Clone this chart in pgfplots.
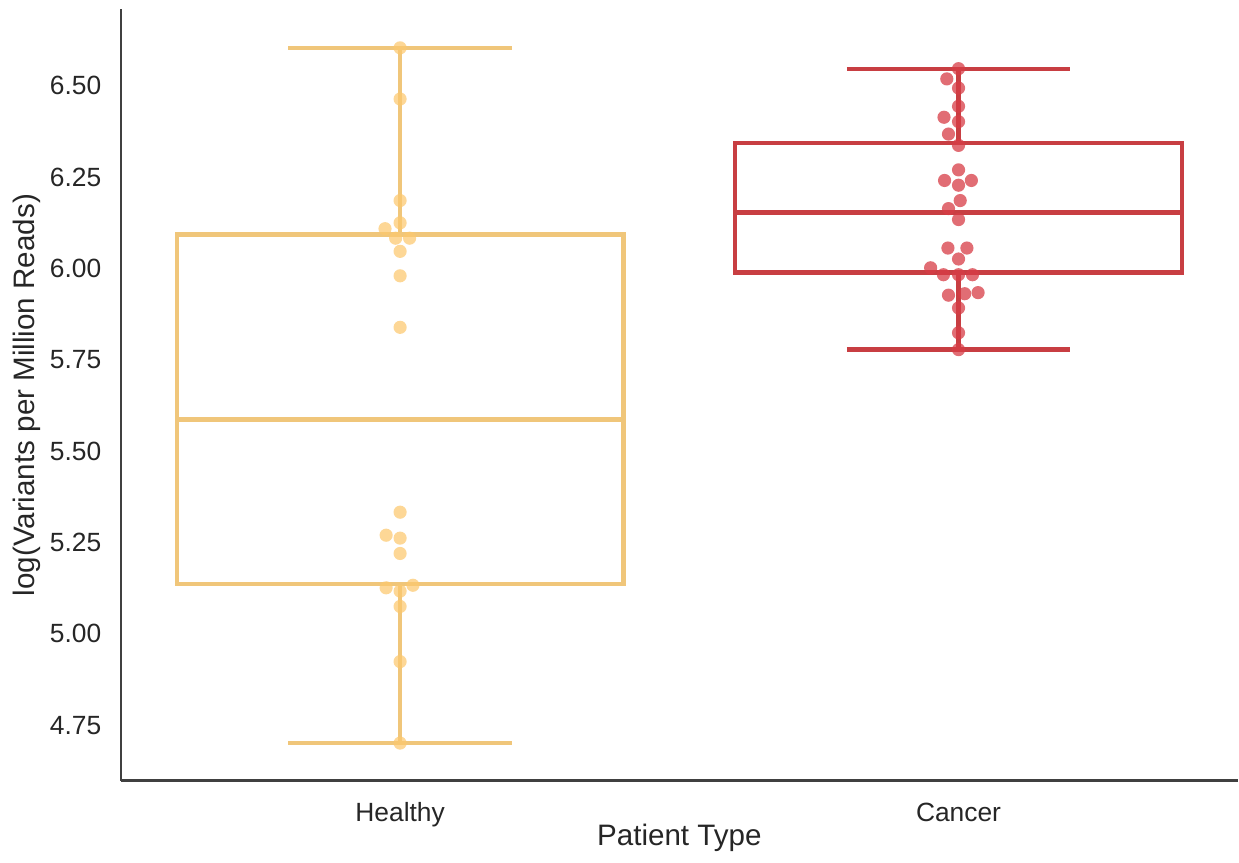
\documentclass[border=0pt]{standalone}
\usepackage{pgfplots}
\pgfplotsset{compat=1.18}
\usepackage{fontspec}
\setmainfont{Liberation Sans}

\definecolor{healthyline}{RGB}{240,198,122}
\definecolor{healthypt}{RGB}{252,200,110}
\definecolor{cancerline}{RGB}{200,62,66}
\definecolor{cancerpt}{RGB}{215,60,70}
\definecolor{spine}{RGB}{64,64,64}
\definecolor{txt}{RGB}{38,38,38}

% #1 colour, #2 position, #3 lower whisker, #4 Q1, #5 median, #6 Q3, #7 upper whisker
\newcommand{\drawbox}[7]{%
  \addplot[draw=#1, line width=2.15pt, line join=miter] coordinates
    {(#2-0.4,#4) (#2+0.4,#4) (#2+0.4,#6) (#2-0.4,#6) (#2-0.4,#4) (#2+0.4,#4)};
  \addplot[draw=#1, line width=2.15pt] coordinates {(#2-0.4,#5) (#2+0.4,#5)};
  \addplot[draw=#1, line width=2.15pt] coordinates {(#2,#4) (#2,#3)};
  \addplot[draw=#1, line width=2.15pt] coordinates {(#2,#6) (#2,#7)};
  \addplot[draw=#1, line width=2.15pt] coordinates {(#2-0.2,#3) (#2+0.2,#3)};
  \addplot[draw=#1, line width=2.15pt] coordinates {(#2-0.2,#7) (#2+0.2,#7)};
}

\begin{document}
\begin{tikzpicture}
\begin{axis}[
  scale only axis,
  width=559pt, height=386pt,
  xmin=-0.5, xmax=1.5,
  ymin=4.598, ymax=6.709,
  axis x line*=bottom, axis y line*=left,
  axis line style={draw=spine, line width=1.25pt},
  tick style={draw=none},
  xtick={0,1}, xticklabels={Healthy,Cancer},
  ytick={4.75,5.00,5.25,5.50,5.75,6.00,6.25,6.50},
  /pgf/number format/assume math mode=true,
  yticklabel style={/pgf/number format/fixed, /pgf/number format/fixed zerofill,
    /pgf/number format/precision=2, anchor=east, inner sep=0pt, xshift=-9.6pt},
  xticklabel style={anchor=base, inner sep=0pt, yshift=-20.4pt},
  tick label style={font=\fontsize{13.2}{15}\selectfont, text=txt},
  xlabel={Patient Type},
  ylabel={log(Variants per Million Reads)},
  every axis x label/.style={at={(axis description cs:0.5,-0.08446)}, anchor=base,
    font=\fontsize{14.8}{17}\selectfont, text=txt},
  every axis y label/.style={at={(axis description cs:-0.0844,0.5)}, anchor=center, rotate=90,
    font=\fontsize{14.8}{17}\selectfont, text=txt},
]

% Box plots: position, whisker ends, quartiles and median per group
\drawbox{healthyline}{0}{4.701}{5.136}{5.587}{6.093}{6.604}
\drawbox{cancerline}{1}{5.778}{5.989}{6.153}{6.344}{6.547}

% Individual samples, Healthy
\addplot[only marks, mark=*, mark size=3.3pt, color=healthypt,
  mark options={fill=healthypt, fill opacity=0.72, draw opacity=0}] table {
x y
0.000 6.604
0.000 6.464
0.000 6.186
0.000 6.125
-0.027 6.109
-0.008 6.083
0.017 6.083
0.000 6.047
0.000 5.980
0.000 5.839
0.000 5.333
-0.025 5.270
0.000 5.262
0.000 5.220
-0.025 5.126
0.023 5.133
0.000 5.117
0.000 5.075
0.000 4.924
0.000 4.701
};

% Individual samples, Cancer
\addplot[only marks, mark=*, mark size=3.3pt, color=cancerpt,
  mark options={fill=cancerpt, fill opacity=0.75, draw opacity=0}] table {
x y
1.000 6.547
0.979 6.519
1.000 6.494
1.000 6.444
0.974 6.414
1.000 6.402
0.982 6.368
1.000 6.337
1.000 6.270
0.975 6.241
1.023 6.241
1.000 6.228
1.003 6.186
0.982 6.164
1.000 6.134
0.981 6.056
1.015 6.056
1.000 6.026
0.950 6.002
0.973 5.983
1.000 5.983
1.025 5.983
0.982 5.927
1.011 5.931
1.035 5.934
1.000 5.892
1.000 5.824
1.000 5.778
};
\end{axis}
\path (current axis.south west) ++(-60.5pt,-40.75pt) rectangle ++(619.5pt,431.5pt);
\end{tikzpicture}
\end{document}
